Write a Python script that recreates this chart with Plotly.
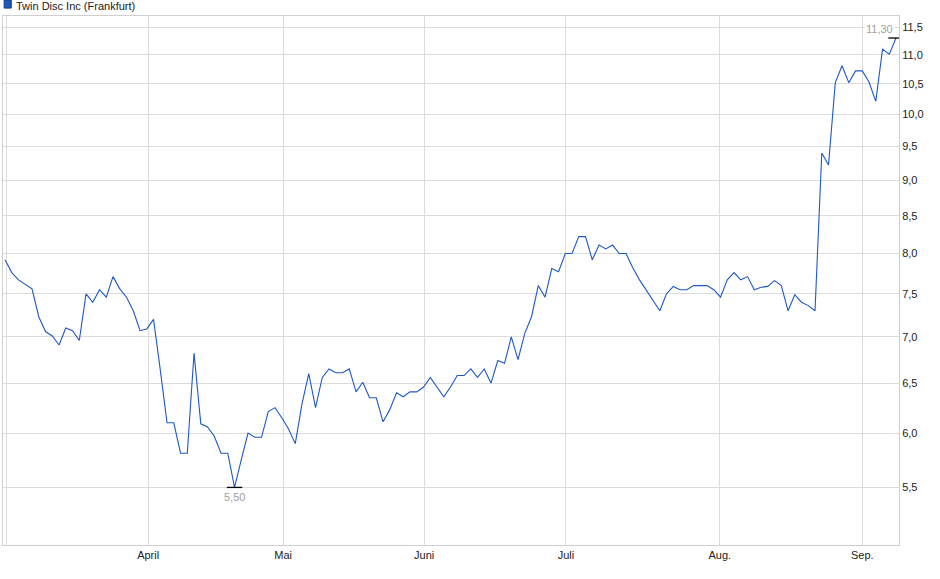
import numpy as np
import plotly.graph_objects as go

#closing prices, one per trading day (EUR, Frankfurt)
prices = [7.92, 7.76, 7.67, 7.62, 7.56, 7.23, 7.06, 7.01, 6.91, 7.10,
          7.07, 6.96, 7.50, 7.40, 7.55, 7.46, 7.71, 7.56, 7.46, 7.30,
          7.07, 7.09, 7.20, 6.64, 6.10, 6.10, 5.81, 5.81, 6.82, 6.09,
          6.06, 5.97, 5.81, 5.81, 5.50, 5.75, 6.00, 5.96, 5.96, 6.21,
          6.25, 6.15, 6.04, 5.90, 6.29, 6.60, 6.25, 6.56, 6.65, 6.61,
          6.61, 6.65, 6.41, 6.51, 6.35, 6.35, 6.11, 6.23, 6.40, 6.36,
          6.41, 6.41, 6.46, 6.56, 6.46, 6.36, 6.46, 6.58, 6.58, 6.65,
          6.56, 6.65, 6.50, 6.74, 6.71, 7.00, 6.75, 7.04, 7.23, 7.60,
          7.46, 7.81, 7.77, 8.00, 8.00, 8.22, 8.22, 7.92, 8.11, 8.06,
          8.11, 8.00, 8.00, 7.82, 7.67, 7.54, 7.42, 7.30, 7.50, 7.59,
          7.55, 7.55, 7.60, 7.60, 7.60, 7.55, 7.46, 7.67, 7.76, 7.67,
          7.71, 7.55, 7.58, 7.59, 7.66, 7.60, 7.30, 7.49, 7.40, 7.36,
          7.30, 9.40, 9.22, 10.52, 10.81, 10.52, 10.72, 10.72, 10.53, 10.21,
          11.10, 11.01, 11.30]
days = list(range(len(prices)))

#month starts (trading day index) and labels
month_pos = [0.15, 21.2, 41.2, 62.1, 83.1, 105.9, 127.0]
month_txt = ['', 'April', 'Mai', 'Juni', 'Juli', 'Aug.', 'Sep.']

y_ticks = [5.5, 6.0, 6.5, 7.0, 7.5, 8.0, 8.5, 9.0, 9.5, 10.0, 10.5, 11.0, 11.5]

name = 'Twin Disc Inc (Frankfurt)'
blue = '#1f58c4'
font = 'Arial, Liberation Sans, sans-serif'

i_lo = int(np.argmin(prices))
i_hi = int(np.argmax(prices))

fig = go.Figure()
fig.add_trace(go.Scatter(x=days, y=prices, mode='lines', showlegend=False,
                         line=dict(color=blue, width=1.1), hoverinfo='skip'))
#min / max markers
fig.add_trace(go.Scatter(x=[days[i_lo], days[i_hi]], y=[prices[i_lo], prices[i_hi]],
                         mode='markers', showlegend=False, hoverinfo='skip',
                         marker=dict(symbol='line-ew', size=11,
                                     line=dict(color='black', width=1.3))))

fig.add_annotation(x=days[i_lo], y=np.log10(prices[i_lo]), text=f'{prices[i_lo]:.2f}'.replace('.', ','),
                   showarrow=False, xanchor='center', yanchor='top', yshift=-2,
                   font=dict(family=font, size=11, color='#a0a0a0'))
fig.add_annotation(x=days[i_hi], y=np.log10(prices[i_hi]), text=f'{prices[i_hi]:.2f}'.replace('.', ','),
                   showarrow=False, xanchor='right', yanchor='bottom', xshift=-1, yshift=1,
                   bgcolor='white', font=dict(family=font, size=11, color='#a0a0a0'))

#legend-like header: small square + series name
fig.add_shape(type='rect', xref='paper', yref='paper',
              x0=0.0013, x1=0.0092, y0=1.0150, y1=1.0300,
              fillcolor=blue, line=dict(color='#123a80', width=1))
fig.add_annotation(xref='paper', yref='paper', x=0.0125, y=1.0195, text=name,
                   showarrow=False, xanchor='left', yanchor='middle',
                   font=dict(family=font, size=11, color='#222'))

fig.update_xaxes(range=[-0.3, 132.44], tickvals=month_pos, ticktext=month_txt,
                 showgrid=True, gridcolor='#dcdcdc', gridwidth=1,
                 showline=True, linecolor='#cfcfcf', mirror=True, ticks='',
                 zeroline=False, tickfont=dict(family=font, size=11, color='#222'))
fig.update_yaxes(type='log', range=[0.7003, 1.0684], side='right',
                 tickvals=y_ticks, tickformat='.1f',
                 showgrid=True, gridcolor='#dcdcdc', gridwidth=1,
                 showline=True, linecolor='#cfcfcf', mirror=True, ticks='',
                 zeroline=False, tickfont=dict(family=font, size=11, color='#222'))

fig.update_layout(width=940, height=579, separators=',.', showlegend=False,
                  margin=dict(l=3, r=41, t=16, b=34),
                  plot_bgcolor='white', paper_bgcolor='white',
                  font=dict(family=font, size=11, color='#222'))
#drop the default page margin so the figure sits at the window corner
fig.write_html('out.html', config={'displayModeBar': False},
               post_script="document.body.style.margin='0';")
